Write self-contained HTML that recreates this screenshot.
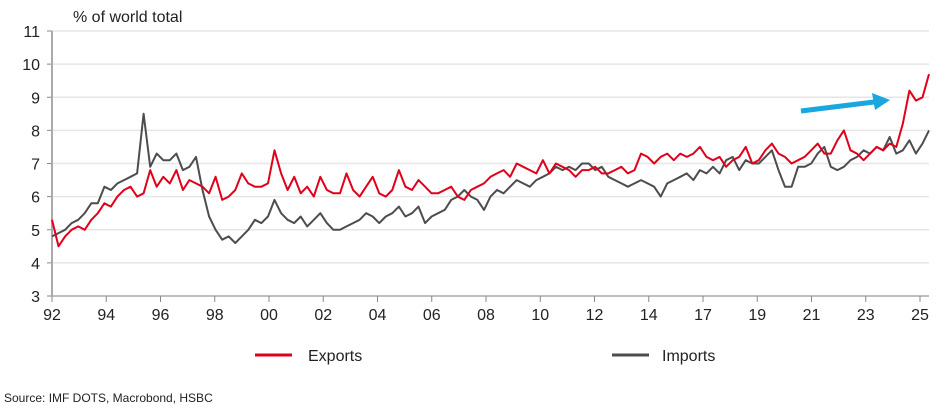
<!DOCTYPE html>
<html><head><meta charset="utf-8"><style>
html,body{margin:0;padding:0;background:#fff;}
svg{display:block;font-family:"Liberation Sans",Arial,sans-serif;}
</style></head><body>
<svg id="chart" width="948" height="412">
<g id="grid"></g>
<g id="yaxis"></g>
<g id="xaxis"></g>
<g id="series"></g>
<text x="73" y="22" font-size="16" fill="#222">% of world total</text>
<g>
<line x1="801" y1="111" x2="874" y2="102" stroke="#1aa7e0" stroke-width="5"/>
<polygon points="890,100 872,93 875,110" fill="#1aa7e0"/>
</g>
<g>
<g>
<line x1="255" y1="355" x2="292" y2="355" stroke="#e0001b" stroke-width="3"/>
<text x="308" y="361" font-size="16" fill="#222">Exports</text></g>
<g>
<line x1="612" y1="355" x2="649" y2="355" stroke="#4d4d4d" stroke-width="3"/>
<text x="662" y="361" font-size="16" fill="#222">Imports</text></g>
</g>
<text x="4" y="402" font-size="12" fill="#222">Source: IMF DOTS, Macrobond, HSBC</text>
</svg>
<script>
const xLabels=["92","94","96","98","00","02","04","06","08","10","12","14","17","19","21","23","25"];
const yTicks=[3,4,5,6,7,8,9,10,11];
const exportsQ=[5.3,4.5,4.8,5.0, 5.1,5.0,5.3,5.5, 5.8,5.7,6.0,6.2, 6.3,6.0,6.1,6.8,
6.3,6.6,6.4,6.8, 6.2,6.5,6.4,6.3, 6.1,6.6,5.9,6.0, 6.2,6.7,6.4,6.3, 6.3,6.4,7.4,6.7,
6.2,6.6,6.1,6.3, 6.0,6.6,6.2,6.1, 6.1,6.7,6.2,6.0, 6.3,6.6,6.1,6.0, 6.2,6.8,6.3,6.2,
6.5,6.3,6.1,6.1, 6.2,6.3,6.0,5.9, 6.2,6.3,6.4,6.6, 6.7,6.8,6.6,7.0, 6.9,6.8,6.7,7.1,
6.7,7.0,6.9,6.8, 6.6,6.8,6.8,6.9, 6.7,6.7,6.8,6.9, 6.7,6.8,7.3,7.2, 7.0,7.2,7.3,7.1,
7.3,7.2,7.3,7.5, 7.2,7.1,7.2,6.9, 7.1,7.2,7.5,7.0, 7.1,7.4,7.6,7.3, 7.2,7.0,7.1,7.2,
7.4,7.6,7.3,7.3, 7.7,8.0,7.4,7.3, 7.1,7.3,7.5,7.4, 7.6,7.5,8.2,9.2, 8.9,9.0,9.7];
const importsQ=[4.8,4.9,5.0,5.2, 5.3,5.5,5.8,5.8, 6.3,6.2,6.4,6.5, 6.6,6.7,8.5,6.9,
7.3,7.1,7.1,7.3, 6.8,6.9,7.2,6.2, 5.4,5.0,4.7,4.8, 4.6,4.8,5.0,5.3, 5.2,5.4,5.9,5.5,
5.3,5.2,5.4,5.1, 5.3,5.5,5.2,5.0, 5.0,5.1,5.2,5.3, 5.5,5.4,5.2,5.4, 5.5,5.7,5.4,5.5,
5.7,5.2,5.4,5.5, 5.6,5.9,6.0,6.2, 6.0,5.9,5.6,6.0, 6.2,6.1,6.3,6.5, 6.4,6.3,6.5,6.6,
6.7,6.9,6.8,6.9, 6.8,7.0,7.0,6.8, 6.9,6.6,6.5,6.4, 6.3,6.4,6.5,6.4, 6.3,6.0,6.4,6.5,
6.6,6.7,6.5,6.8, 6.7,6.9,6.7,7.1, 7.2,6.8,7.1,7.0, 7.0,7.2,7.4,6.8, 6.3,6.3,6.9,6.9,
7.0,7.3,7.5,6.9, 6.8,6.9,7.1,7.2, 7.4,7.3,7.5,7.4, 7.8,7.3,7.4,7.7, 7.3,7.6,8.0];
const NS="http://www.w3.org/2000/svg";
const X0=52,XEND=929,TICKSTEP=54.25,Y0=296,PXU=33.125;
function xs(q,n){return X0+q*(XEND-X0)/(n-1);}
function ys(v){return Y0-(v-3)*PXU;}
function mk(tag,attrs,parent){const e=document.createElementNS(NS,tag);for(const k in attrs)e.setAttribute(k,attrs[k]);parent.appendChild(e);return e;}
const grid=document.getElementById('grid'),ya=document.getElementById('yaxis'),xa=document.getElementById('xaxis'),ser=document.getElementById('series');
yTicks.forEach(v=>{
 if(v>3){const g=mk('line',{x1:X0,x2:XEND,y1:ys(v),y2:ys(v),stroke:'#e6e6e6','stroke-width':1.5},grid);
 
 }
 mk('line',{x1:X0-5,x2:X0,y1:ys(v),y2:ys(v),stroke:'#888','stroke-width':1},ya);
 const t=mk('text',{x:X0-12,y:ys(v)+6,'font-size':16,fill:'#222','text-anchor':'end'},ya);t.textContent=v;
 
 
});
mk('line',{x1:X0,x2:X0,y1:ys(11),y2:Y0,stroke:'#aaa','stroke-width':2},ya);
mk('line',{x1:X0,x2:XEND,y1:Y0,y2:Y0,stroke:'#aaa','stroke-width':1.5},xa);
xLabels.forEach((l,i)=>{
 const x=X0+i*TICKSTEP;
 mk('line',{x1:x,x2:x,y1:Y0,y2:Y0+6,stroke:'#888','stroke-width':1},xa);
 const t=mk('text',{x:x,y:Y0+24,'font-size':16,fill:'#222','text-anchor':'middle'},xa);t.textContent=l;
 
 
});
function line(data,color,w,name){
 const n=data.length;
 const d=data.map((v,i)=>(i?'L':'M')+xs(i,n).toFixed(1)+','+ys(v).toFixed(1)).join('');
 const p=mk('path',{d:d,fill:'none',stroke:color,'stroke-width':w,'stroke-linejoin':'round'},ser);
 
 
}
line(importsQ,'#4d4d4d',2,'imports-line');
line(exportsQ,'#e0001b',2,'exports-line');
</script>
</body></html>
